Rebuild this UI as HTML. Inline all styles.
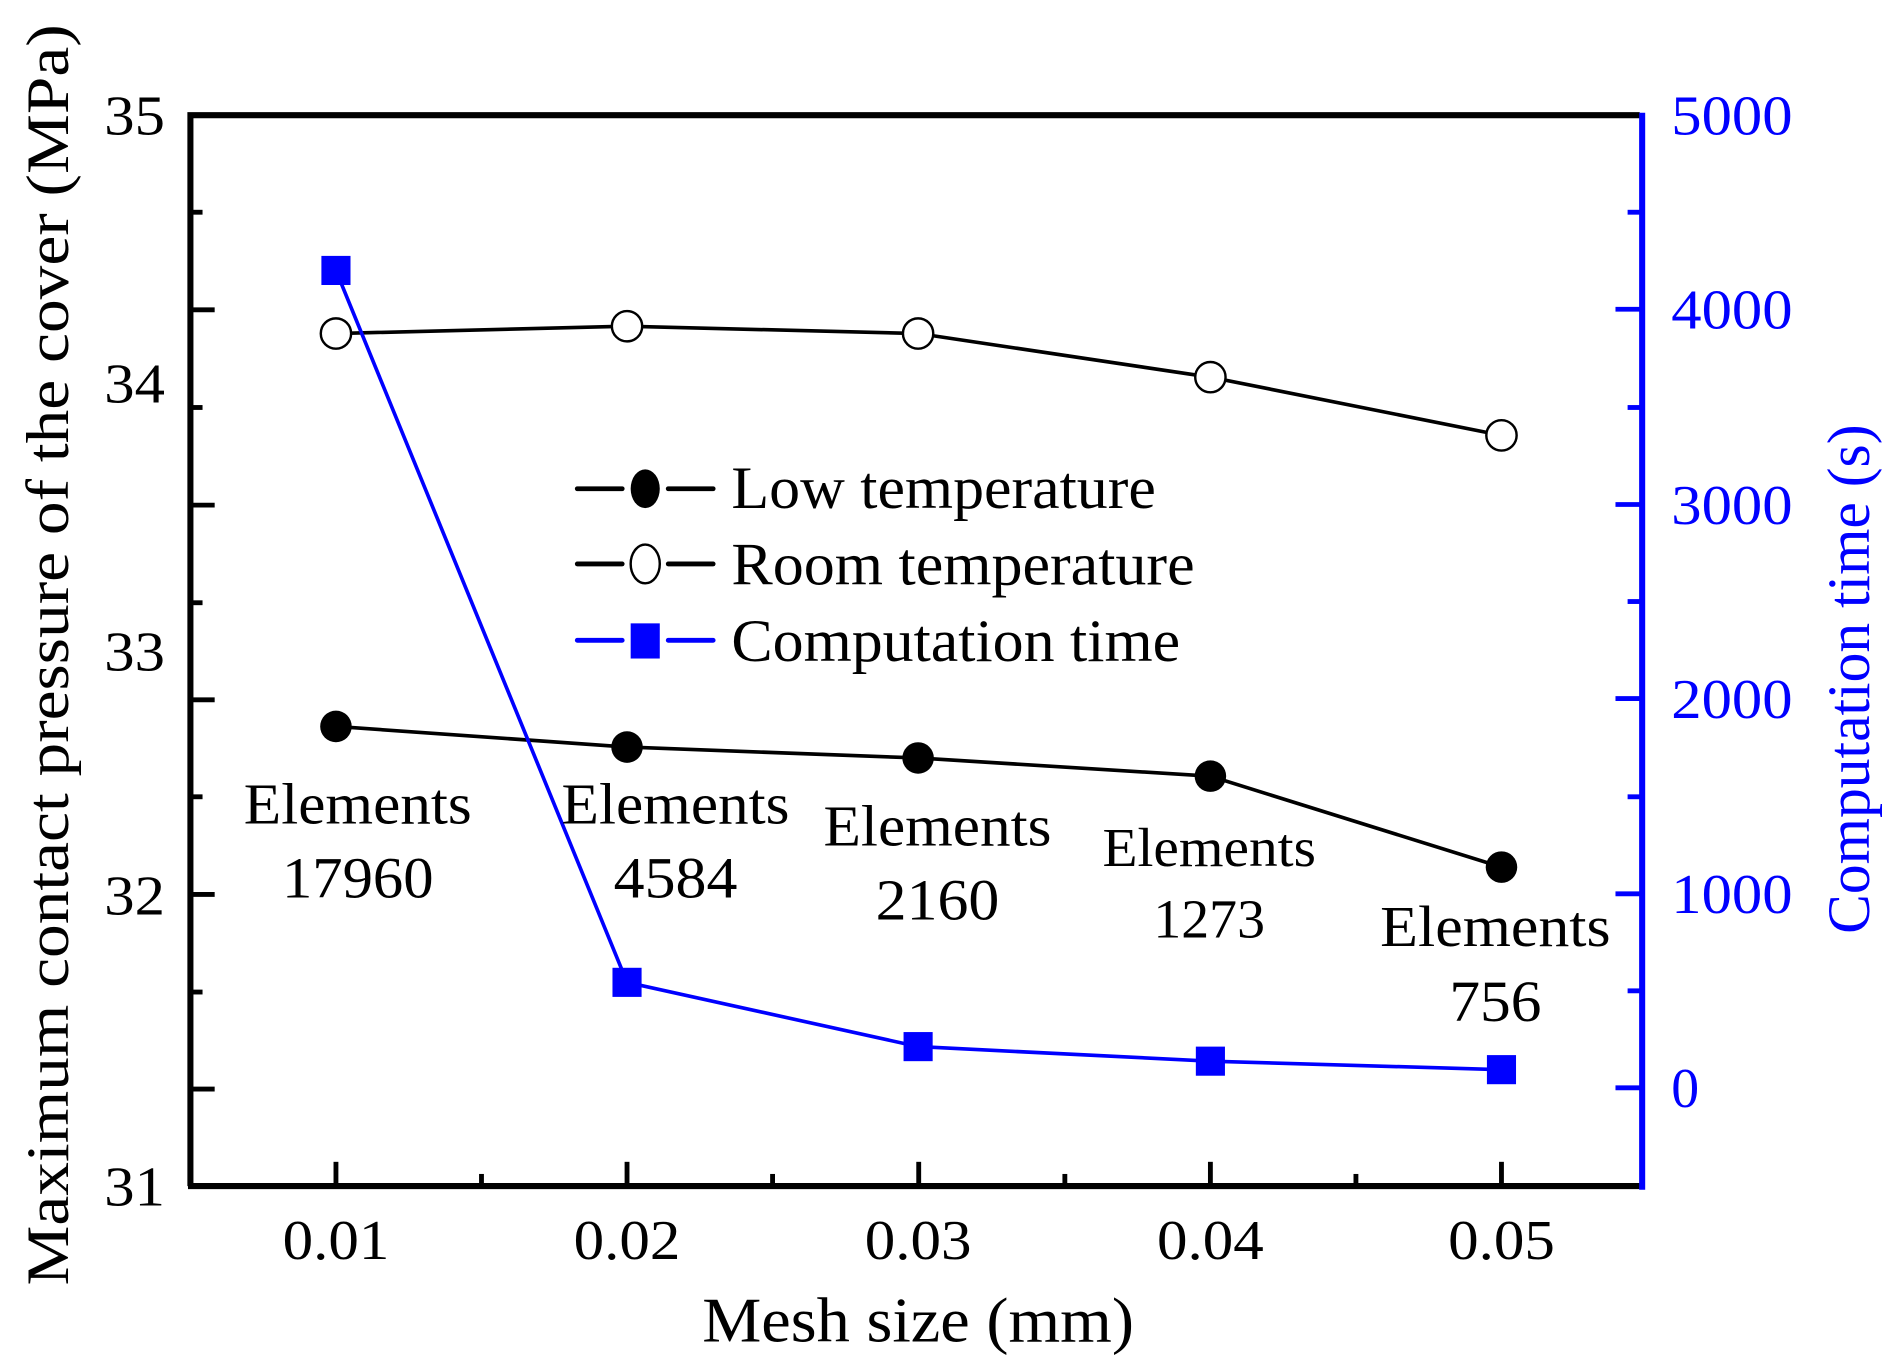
<!DOCTYPE html>
<html><head><meta charset="utf-8"><style>
html,body{margin:0;padding:0;background:#fff;}
svg{display:block;}
text{font-family:"Liberation Serif","Times New Roman",serif;}
</style></head><body>
<svg width="1892" height="1368" viewBox="0 0 1560 1128" preserveAspectRatio="none" xmlns="http://www.w3.org/2000/svg" font-family="Liberation Serif, Times New Roman, serif">
<rect width="1560" height="1128" fill="#fff"/>
<g stroke="#000" stroke-width="4">
<line x1="157" y1="95" x2="177" y2="95"/><line x1="157" y1="255.5" x2="177" y2="255.5"/>
<line x1="157" y1="416.5" x2="177" y2="416.5"/><line x1="157" y1="577" x2="177" y2="577"/>
<line x1="157" y1="737.5" x2="177" y2="737.5"/><line x1="157" y1="898" x2="177" y2="898"/>
<line x1="157" y1="175" x2="167" y2="175"/><line x1="157" y1="336" x2="167" y2="336"/>
<line x1="157" y1="497" x2="167" y2="497"/><line x1="157" y1="657" x2="167" y2="657"/>
<line x1="157" y1="818" x2="167" y2="818"/>
<line x1="277" y1="978" x2="277" y2="958"/><line x1="517" y1="978" x2="517" y2="958"/>
<line x1="757.5" y1="978" x2="757.5" y2="958"/><line x1="998" y1="978" x2="998" y2="958"/>
<line x1="1238" y1="978" x2="1238" y2="958"/>
<line x1="397" y1="978" x2="397" y2="968"/><line x1="637" y1="978" x2="637" y2="968"/>
<line x1="878" y1="978" x2="878" y2="968"/><line x1="1118" y1="978" x2="1118" y2="968"/>
</g>
<g stroke="#00f" stroke-width="4">
<line x1="1352" y1="255" x2="1332" y2="255"/><line x1="1352" y1="416" x2="1332" y2="416"/>
<line x1="1352" y1="576" x2="1332" y2="576"/><line x1="1352" y1="737" x2="1332" y2="737"/>
<line x1="1352" y1="897" x2="1332" y2="897"/>
<line x1="1352" y1="175" x2="1342" y2="175"/><line x1="1352" y1="336" x2="1342" y2="336"/>
<line x1="1352" y1="496" x2="1342" y2="496"/><line x1="1352" y1="657" x2="1342" y2="657"/>
<line x1="1352" y1="817" x2="1342" y2="817"/>
</g>
<path d="M157 978 L157 95 L1352 95" fill="none" stroke="#000" stroke-width="5"/>
<line x1="155" y1="978" x2="1352" y2="978" stroke="#000" stroke-width="5"/>
<line x1="1354" y1="93" x2="1354" y2="981" stroke="#00f" stroke-width="5"/>
<polyline points="277,599 517,616 757,625 998,640 1238,715" fill="none" stroke="#000" stroke-width="3"/>
<polyline points="277,275 517,269 757,275 998,311 1238,359" fill="none" stroke="#000" stroke-width="3"/>
<polyline points="277,223 517,810 757,863 998,875 1238,882" fill="none" stroke="#00f" stroke-width="3"/>
<g fill="#000">
<circle cx="277" cy="599" r="13"/><circle cx="517" cy="616" r="13"/><circle cx="757" cy="625" r="13"/>
<circle cx="998" cy="640" r="13"/><circle cx="1238" cy="715" r="13"/>
</g>
<g fill="#fff" stroke="#000" stroke-width="2">
<circle cx="277" cy="275" r="12.5"/><circle cx="517" cy="269" r="12.5"/><circle cx="757" cy="275" r="12.5"/>
<circle cx="998" cy="311" r="12.5"/><circle cx="1238" cy="359" r="12.5"/>
</g>
<g fill="#00f">
<rect x="265" y="211" width="24" height="24"/><rect x="505" y="798" width="24" height="24"/>
<rect x="745" y="851" width="24" height="24"/><rect x="986" y="863" width="24" height="24"/>
<rect x="1226" y="870" width="24" height="24"/>
</g>
<g stroke-width="4" stroke-linecap="round">
<line x1="476" y1="403" x2="513" y2="403" stroke="#000"/><line x1="551" y1="403" x2="588" y2="403" stroke="#000"/>
<line x1="476" y1="465" x2="513" y2="465" stroke="#000"/><line x1="551" y1="465" x2="588" y2="465" stroke="#000"/>
<line x1="476" y1="528" x2="513" y2="528" stroke="#00f"/><line x1="551" y1="528" x2="588" y2="528" stroke="#00f"/>
</g>
<ellipse cx="532" cy="403" rx="12" ry="16" fill="#000"/>
<ellipse cx="532" cy="465" rx="12" ry="16" fill="#fff" stroke="#000" stroke-width="2"/>
<rect x="520" y="514" width="24" height="29" fill="#00f"/>
<g font-size="50" fill="#000">
<text x="603" y="419" textLength="350" lengthAdjust="spacingAndGlyphs">Low temperature</text>
<text x="603" y="482" textLength="382" lengthAdjust="spacingAndGlyphs">Room temperature</text>
<text x="603" y="545" textLength="370" lengthAdjust="spacingAndGlyphs">Computation time</text>
</g>
<g font-size="48" fill="#000" text-anchor="middle">
<text x="295" y="679" textLength="188" lengthAdjust="spacingAndGlyphs">Elements</text>
<text x="295" y="740" textLength="125" lengthAdjust="spacingAndGlyphs">17960</text>
<text x="557" y="679" textLength="188" lengthAdjust="spacingAndGlyphs">Elements</text>
<text x="557" y="740" textLength="102" lengthAdjust="spacingAndGlyphs">4584</text>
<text x="773" y="697" textLength="188" lengthAdjust="spacingAndGlyphs">Elements</text>
<text x="773" y="758" textLength="102" lengthAdjust="spacingAndGlyphs">2160</text>
<text x="997" y="714" font-size="45" textLength="176" lengthAdjust="spacingAndGlyphs">Elements</text>
<text x="997" y="773" font-size="45" textLength="92" lengthAdjust="spacingAndGlyphs">1273</text>
<text x="1233" y="780" textLength="190" lengthAdjust="spacingAndGlyphs">Elements</text>
<text x="1233" y="842" textLength="76" lengthAdjust="spacingAndGlyphs">756</text>
</g>
<g font-size="46" fill="#000" text-anchor="end">
<text x="136" y="111" textLength="50" lengthAdjust="spacingAndGlyphs">35</text>
<text x="136" y="332" textLength="50" lengthAdjust="spacingAndGlyphs">34</text>
<text x="136" y="553" textLength="50" lengthAdjust="spacingAndGlyphs">33</text>
<text x="136" y="754" textLength="50" lengthAdjust="spacingAndGlyphs">32</text>
<text x="136" y="994" textLength="50" lengthAdjust="spacingAndGlyphs">31</text>
</g>
<g font-size="46" fill="#000" text-anchor="middle">
<text x="277" y="1038" textLength="88" lengthAdjust="spacingAndGlyphs">0.01</text>
<text x="517" y="1038" textLength="88" lengthAdjust="spacingAndGlyphs">0.02</text>
<text x="757" y="1038" textLength="88" lengthAdjust="spacingAndGlyphs">0.03</text>
<text x="998" y="1038" textLength="88" lengthAdjust="spacingAndGlyphs">0.04</text>
<text x="1238" y="1038" textLength="88" lengthAdjust="spacingAndGlyphs">0.05</text>
</g>
<g font-size="46" fill="#00f">
<text x="1378" y="111" textLength="100" lengthAdjust="spacingAndGlyphs">5000</text>
<text x="1378" y="271" textLength="100" lengthAdjust="spacingAndGlyphs">4000</text>
<text x="1378" y="432" textLength="100" lengthAdjust="spacingAndGlyphs">3000</text>
<text x="1378" y="592" textLength="100" lengthAdjust="spacingAndGlyphs">2000</text>
<text x="1378" y="753" textLength="100" lengthAdjust="spacingAndGlyphs">1000</text>
<text x="1378" y="913">0</text>
</g>
<text x="757" y="1106" font-size="52" text-anchor="middle" textLength="356" lengthAdjust="spacingAndGlyphs">Mesh size (mm)</text>
<text transform="translate(56,540) rotate(-90)" font-size="50" text-anchor="middle" textLength="1040" lengthAdjust="spacingAndGlyphs">Maximum contact pressure of the cover (MPa)</text>
<text transform="translate(1541,560) rotate(-90)" font-size="50" fill="#00f" text-anchor="middle" textLength="420" lengthAdjust="spacingAndGlyphs">Computation time (s)</text>
</svg>
</body></html>
